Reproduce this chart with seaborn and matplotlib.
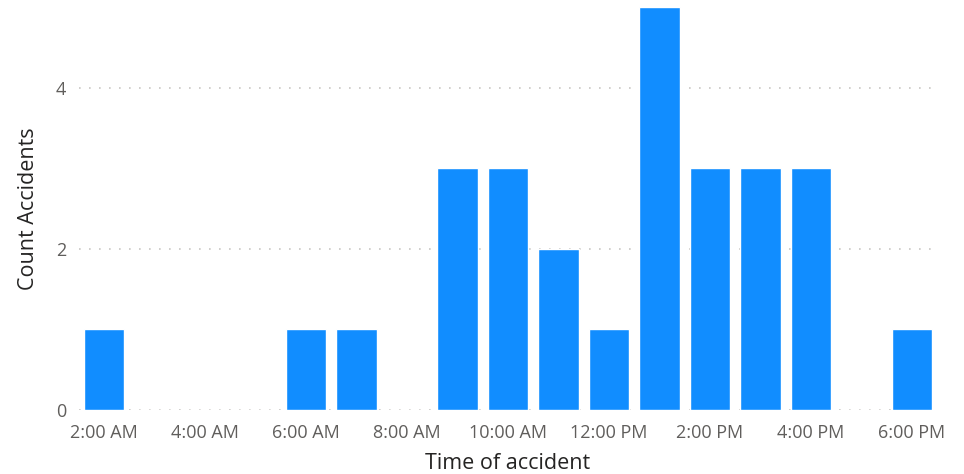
import pandas as pd
import seaborn as sns
import matplotlib.pyplot as plt

# data
hours = list(range(2, 19))
counts = [1, 0, 0, 0, 1, 1, 0, 3, 3, 2, 1, 5, 3, 3, 3, 0, 1]
tick_labels = ["2:00 AM", "4:00 AM", "6:00 AM", "8:00 AM", "10:00 AM",
               "12:00 PM", "2:00 PM", "4:00 PM", "6:00 PM"]

df = pd.DataFrame({"hour": hours, "count": counts})

sns.set_style("white")
plt.rcParams['font.family'] = ['Open Sans', 'DejaVu Sans']

fig = plt.figure(figsize=(9.64, 4.74), dpi=100)
ax = fig.add_axes([79 / 964, 64 / 474, 858 / 964, 403 / 474])

sns.barplot(data=df, x="hour", y="count", order=hours, color="#118DFF",
            saturation=1, width=0.8, ax=ax)

ax.set_ylim(0, 5)
ax.set_yticks([0, 2, 4])
ax.set_xticks(range(0, len(hours), 2))
ax.set_xticklabels(tick_labels)
ax.set_xlim(-0.5, len(hours) - 0.5)

ax.grid(axis="y", color="#C8C6C4", linestyle=(0, (1, 5)), linewidth=1.2)
ax.set_axisbelow(True)
for s in ax.spines.values():
    s.set_visible(False)

ax.tick_params(axis="both", length=0, labelsize=13, colors="#605E5C")
ax.tick_params(axis="x", pad=10)
ax.tick_params(axis="y", pad=9)
ax.set_xlabel("Time of accident", fontsize=15.5, color="#252423", labelpad=8)
ax.set_ylabel("Count Accidents", fontsize=15.5, color="#252423", labelpad=12)

fig.savefig("out.png", dpi=100)
